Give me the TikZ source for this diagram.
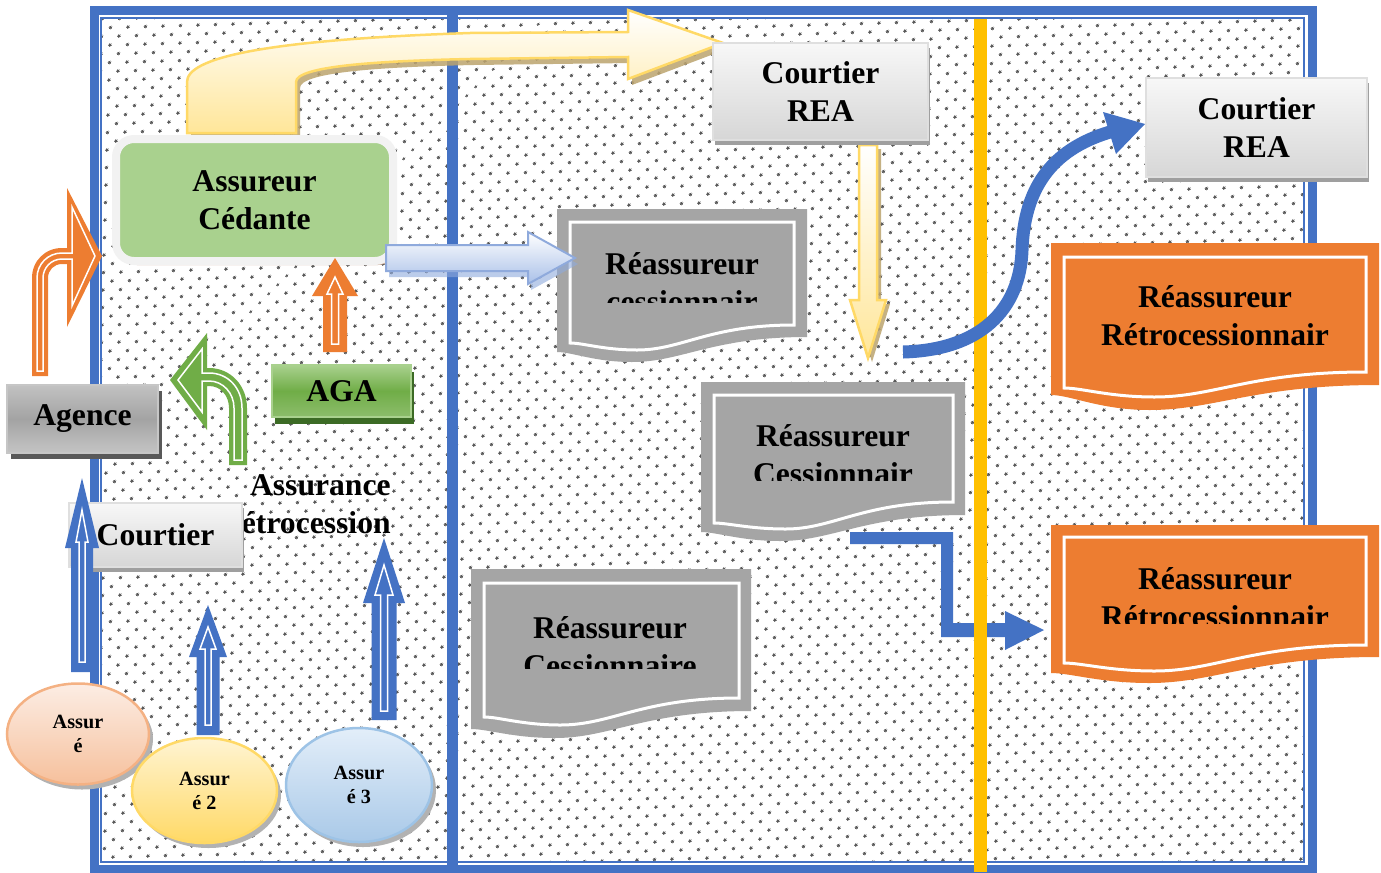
\documentclass[tikz,border=0pt]{standalone}
\usepackage{fontspec}
\setmainfont{Liberation Serif}
\usepackage{tikz}
\usetikzlibrary{shapes.geometric, shadows, patterns.meta}
\definecolor{frameBlue}{HTML}{4472C4}
\definecolor{sepYellow}{HTML}{FFC000}
\definecolor{cedGreen}{HTML}{A9D18E}
\definecolor{cedRim}{HTML}{F2F2F2}
\definecolor{cedShadow}{HTML}{C9A48C}
\definecolor{agaGreen}{HTML}{70AD47}
\definecolor{agaShadow}{HTML}{3C6B25}
\definecolor{retroOrange}{HTML}{ED7D31}
\definecolor{docGray}{HTML}{A5A5A5}
\definecolor{arrYellow}{HTML}{FFE699}
\definecolor{arrYellowLine}{HTML}{FFD966}
\definecolor{arrTan}{HTML}{BCA46E}
\definecolor{arrBlueLight}{HTML}{A9C0E8}
\definecolor{arrBlueLine}{HTML}{8FAADC}
\definecolor{dotInk}{HTML}{5A5A5A}
\definecolor{peachTop}{HTML}{FCEDE4}
\definecolor{peachBot}{HTML}{F6C09C}
\definecolor{peachLine}{HTML}{F4B183}
\definecolor{sunTop}{HTML}{FFF4D2}
\definecolor{sunBot}{HTML}{FFD966}
\definecolor{skyTop}{HTML}{E3EEF9}
\definecolor{skyBot}{HTML}{A9C9E8}
\definecolor{skyLine}{HTML}{9DC3E6}
\newdimen\pxu \pxu=0.02cm
\tikzset{
  lbl/.style={font=\fontsize{18}{21.5}\selectfont\bfseries, align=center, text=black, inner sep=0pt},
  lblsmall/.style={font=\fontsize{11.5}{13.6}\selectfont\bfseries, align=center, text=black, inner sep=0pt},
  greybox/.style={lbl, draw=gray!25, line width=2\pxu, top color=gray!6, bottom color=gray!32,
    drop shadow={shadow xshift=2\pxu, shadow yshift=-5\pxu, fill=gray!75, opacity=1}},
  darkbox/.style={lbl, draw=gray!45, line width=2\pxu, top color=gray!48, bottom color=gray!46, middle color=gray!72,
    drop shadow={shadow xshift=4\pxu, shadow yshift=-6\pxu, fill=black!65, opacity=1}},
  agabox/.style={lbl, draw=cedGreen, line width=2\pxu, top color=cedGreen, bottom color=agaGreen!80, middle color=agaGreen,
    drop shadow={shadow xshift=3\pxu, shadow yshift=-7\pxu, fill=agaShadow, opacity=1}},
  cedbox/.style={lbl, fill=cedGreen, draw=cedRim, line width=8\pxu, rounded corners=18\pxu,
    drop shadow={shadow xshift=3\pxu, shadow yshift=-4\pxu, fill=cedShadow, opacity=1}},
  assure/.style={lblsmall, ellipse, line width=2.5\pxu,
    drop shadow={shadow xshift=4\pxu, shadow yshift=-5\pxu, fill=gray!60, opacity=1}},
  innerline/.style={draw=white, line width=1.5\pxu, line join=miter},
}

\begin{document}
\begin{tikzpicture}[x=0.02cm, y=-0.02cm]
  \useasboundingbox (0,0) rectangle (1381,872);
  % \upArw{centre x}{bottom}{tip}{half shaft}{half head}{head length}
  \newcommand{\upArw}[6]{(#1-#4,#2) -- (#1-#4,#3+#6) -- (#1-#5,#3+#6) -- (#1,#3) -- (#1+#5,#3+#6) -- (#1+#4,#3+#6) -- (#1+#4,#2) -- cycle}
  % \docPath{left}{top}{right}{bottom right}{bottom left}{lowest point of the wave}
  \newcommand{\docPath}[6]{(#1,#2) -- (#3,#2) -- (#3,#4) .. controls ({#1+0.62*(#3-#1)},#4) and ({#1+0.5*(#3-#1)},#6) .. ({#1+0.3*(#3-#1)},#6) .. controls ({#1+0.15*(#3-#1)},#6) and ({#1+0.06*(#3-#1)},#5) .. (#1,#5) -- cycle}
  \newcommand{\topBent}{(187,133) -- (187,82) .. controls (187,58) and (262,40) .. (470,33) -- (628,32) -- (628,10) -- (723,43) -- (628,79) -- (628,57) -- (470,59) .. controls (378,61) and (296,66) .. (296,82) -- (296,133) -- cycle}
  \newcommand{\cedArw}{(386,245) -- (528,245) -- (528,232) -- (575,258) -- (528,284) -- (528,271) -- (386,271) -- cycle}
  \newcommand{\downArw}{(859,145) -- (877,145) -- (877,300) -- (886,300) -- (868,358) -- (850,300) -- (859,300) -- cycle}

  % ---- dotted ground and frame
  \fill[white] (101,18) rectangle (1304,862);
  \fill[pattern={Dots[distance=7.4pt, angle=45, radius=1pt]}, pattern color=dotInk] (101,18) rectangle (1304,862);
  \draw[frameBlue, line width=9\pxu] (94,10) rectangle (1312,869);
  \draw[frameBlue, line width=2\pxu] (101,18) rectangle (1304,862);
  \draw[frameBlue, line width=11\pxu] (452,14) -- (452,866);
  \fill[frameBlue] (850,532) -- (953,532) -- (953,623) -- (1005,623) -- (1005,611) -- (1044,630) -- (1005,650) -- (1005,637) -- (941,637) -- (941,544) -- (850,544) -- cycle;
  \draw[sepYellow, line width=13\pxu] (980,19) -- (980,872);

  % ---- cedante side
  \fill[arrTan, opacity=.85, shift={(4,6)}] \topBent;
  \path[top color=white, bottom color=arrYellow, draw=arrYellowLine, line width=2.5\pxu] \topBent;
  \node[cedbox, minimum width=277\pxu, minimum height=122\pxu] (cedante) at (254.5,200) {Assureur\\Cédante};

  \fill[retroOrange] (32,376) -- (32,278) .. controls (32,261) and (45,248) .. (62,248) -- (67,248) -- (67,188) -- (102,256) -- (67,327) -- (67,264) -- (62,264) .. controls (54,264) and (48,270) .. (48,278) -- (48,376) -- cycle;
  \draw[innerline] (37,371) -- (37,278) .. controls (37,264) and (48,253) .. (62,253) -- (72,253) -- (72,207) -- (95,256) -- (72,306) -- (72,259) -- (62,259) .. controls (51,259) and (43,268) .. (43,278) -- (43,371) -- cycle;
  \fill[agaGreen] (229,465) -- (229,408) .. controls (229,396) and (221,386) .. (209,386) -- (207,386) -- (207,430) -- (170,380) -- (207,333) -- (207,368) -- (209,368) .. controls (231,368) and (247,386) .. (247,408) -- (247,465) -- cycle;
  \draw[innerline] (234,460) -- (234,408) .. controls (234,393) and (223,381) .. (209,381) -- (202,381) -- (202,412) -- (178,380) -- (202,349) -- (202,373) -- (209,373) .. controls (228,373) and (242,388) .. (242,408) -- (242,460) -- cycle;
  \fill[retroOrange] \upArw{335}{352}{258}{12}{23}{38};
  \draw[innerline] \upArw{335}{344}{277}{3.5}{8}{17};

  \node[darkbox, minimum width=151\pxu, minimum height=68\pxu] (agence) at (82.5,419) {Agence};
  \node[agabox, minimum width=139\pxu, minimum height=52\pxu] (aga) at (341.5,391) {AGA};
  \node[lbl, align=right, anchor=east] (assRetro) at (391,504) {Assurance\\Rétrocession};
  \node[greybox, minimum width=173\pxu, minimum height=64\pxu] (courtier) at (155.5,535) {Courtier};

  \fill[frameBlue] \upArw{82}{672}{478}{11}{17}{70};
  \draw[innerline] \upArw{82}{662}{510}{3}{6}{32};
  \fill[frameBlue] \upArw{208}{735}{605}{11.5}{19}{52};
  \draw[innerline] \upArw{208}{725}{627}{3}{8}{22};
  \fill[frameBlue] \upArw{384}{720}{538}{12.5}{21}{65};
  \draw[innerline] \upArw{384}{711}{565}{3.5}{9}{30};

  \node[assure, top color=peachTop, bottom color=peachBot, draw=peachLine, minimum width=142\pxu, minimum height=101\pxu] (assureOne) at (78,734) {Assur\\é};
  \node[assure, top color=sunTop, bottom color=sunBot, draw=sunBot, minimum width=145\pxu, minimum height=105\pxu] (assureTwo) at (204.5,790.5) {Assur\\é 2};
  \node[assure, top color=skyTop, bottom color=skyBot, draw=skyLine, minimum width=146\pxu, minimum height=114\pxu] (assureThree) at (359,785) {Assur\\é 3};

  % ---- cessionnaires
  \fill[docGray] \docPath{557}{209}{807}{337}{352}{362};
  \path[fill=docGray, innerline, line width=3\pxu] \docPath{570}{222}{794}{325}{343}{350};
  \begin{scope}
    \clip (570,222) rectangle (794,302);
    \node[lbl] (cessOne) at (682,283) {Réassureur\\cessionnair};
  \end{scope}
  \fill[frameBlue!60, opacity=.6, shift={(3,6)}] \cedArw;
  \path[top color=white, bottom color=arrBlueLight, draw=arrBlueLine, line width=2\pxu] \cedArw;

  \fill[docGray] \docPath{701}{382}{965}{515}{532}{541};
  \path[fill=docGray, innerline, line width=3\pxu] \docPath{714}{395}{953}{502}{523}{529};
  \begin{scope}
    \clip (714,395) rectangle (953,480);
    \node[lbl] (cessTwo) at (833,455) {Réassureur\\Cessionnair};
  \end{scope}
  \fill[docGray] \docPath{471}{569}{751}{711}{729}{738};
  \path[fill=docGray, innerline, line width=3\pxu] \docPath{484}{583}{739}{698}{717}{725};
  \begin{scope}
    \clip (484,583) rectangle (739,668);
    \node[lbl] (cessThree) at (610,647) {Réassureur\\Cessionnaire};
  \end{scope}

  \fill[arrTan, opacity=.85, shift={(4,4)}] \downArw;
  \path[top color=white, bottom color=arrYellow, draw=arrYellowLine, line width=2.5\pxu] \downArw;
  \node[greybox, minimum width=215\pxu, minimum height=97\pxu] (courtierRea) at (820.5,91.5) {Courtier\\REA};

  % ---- retrocessionnaires
  \node[greybox, minimum width=221\pxu, minimum height=99\pxu] (courtierReaTwo) at (1256.5,127.5) {Courtier\\REA};
  \draw[frameBlue, line width=13\pxu] (903,352) .. controls (980,350) and (1020,310) .. (1022,250) .. controls (1024,190) and (1050,150) .. (1110,132);
  \fill[frameBlue] (1103,112) -- (1145,124) -- (1116,154) -- cycle;

  \fill[retroOrange] \docPath{1051}{243}{1379}{385}{395}{410};
  \path[fill=retroOrange, innerline, line width=3\pxu] \docPath{1064}{257}{1366}{372}{388}{397};
  \node[lbl] (retroOne) at (1215,315.5) {Réassureur\\Rétrocessionnair};
  \fill[retroOrange] \docPath{1051}{525}{1379}{657}{673}{683};
  \path[fill=retroOrange, innerline, line width=3\pxu] \docPath{1064}{537}{1366}{645}{663}{671};
  \begin{scope}
    \clip (1064,537) rectangle (1366,623);
    \node[lbl] (retroTwo) at (1215,598) {Réassureur\\Rétrocessionnair};
  \end{scope}
\end{tikzpicture}
\end{document}
